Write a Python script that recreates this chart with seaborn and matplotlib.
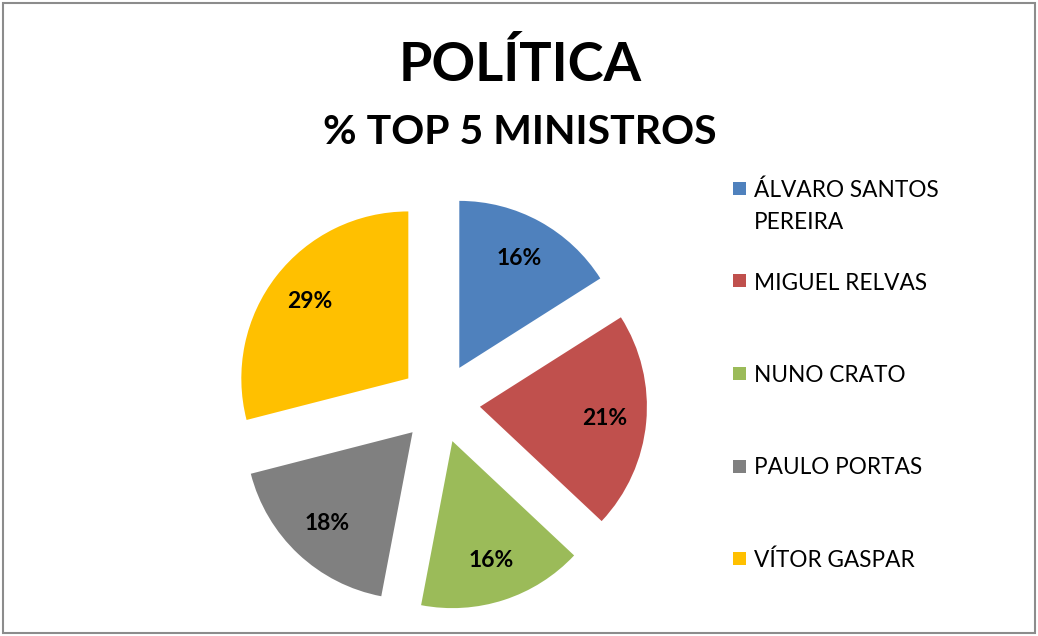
import matplotlib
matplotlib.use("Agg")
import matplotlib.pyplot as plt
import matplotlib.patches as patches
import seaborn as sns

# Data
ministros = ["ÁLVARO SANTOS\nPEREIRA", "MIGUEL RELVAS", "NUNO CRATO", "PAULO PORTAS", "VÍTOR GASPAR"]
percentagens = [16, 21, 16, 18, 29]
cores = ["#4F81BD", "#C0504D", "#9BBB59", "#808080", "#FFC000"]

sns.set_theme(style="white")
plt.rcParams['font.family'] = ['Lato', 'DejaVu Sans']

fig = plt.figure(figsize=(10.38, 6.36), dpi=100)
W, H = 1038, 636

# Outer chart border
fig.patches.append(patches.Rectangle((3 / W, 3 / H), 1 - 6 / W, 1 - 6 / H,
                                     transform=fig.transFigure, fill=False,
                                     edgecolor="#8C8C8C", linewidth=1.5))

# Pie axes: 1 unit = 167 px, centred at (440, 403) px
r_px = 167
lim = 1.4
side = 2 * lim * r_px
cx, cy = 440, H - 403
ax = fig.add_axes([(cx - side / 2) / W, (cy - side / 2) / H, side / W, side / H])

wedges, texts, autotexts = ax.pie(
    percentagens, colors=cores, startangle=90, counterclock=False,
    explode=[0.24] * len(percentagens), autopct="%d%%", pctdistance=0.75,
    wedgeprops=dict(linewidth=0), textprops=dict(fontsize=16.5, fontweight="bold", color="black"))
ax.set_xlim(-lim, lim)
ax.set_ylim(-lim, lim)
ax.set_aspect("equal")
ax.axis("off")

# Titles
fig.text(520 / W, 1 - 65 / H, "POLÍTICA", ha="center", va="center",
         fontsize=39, fontweight="bold", color="black")
fig.text(520 / W, 1 - 133 / H, "% TOP 5 MINISTROS", ha="center", va="center",
         fontsize=29.5, fontweight="bold", color="black")

# Legend (Excel style: equal pitch per entry, marker on first line)
y_top = 188
pitch = 92.5
line_px = 32
for i, (nome, cor) in enumerate(zip(ministros, cores)):
    y = y_top + i * pitch
    fig.patches.append(patches.Rectangle((733 / W, 1 - (y + 7) / H), 13 / W, 13 / H,
                                         transform=fig.transFigure, facecolor=cor, edgecolor="none"))
    for j, linha in enumerate(nome.split("\n")):
        fig.text(754 / W, 1 - (y + 9 + j * line_px) / H, linha, ha="left", va="baseline",
                 fontsize=16.3, color="black")

fig.savefig("out.png", dpi=100)
